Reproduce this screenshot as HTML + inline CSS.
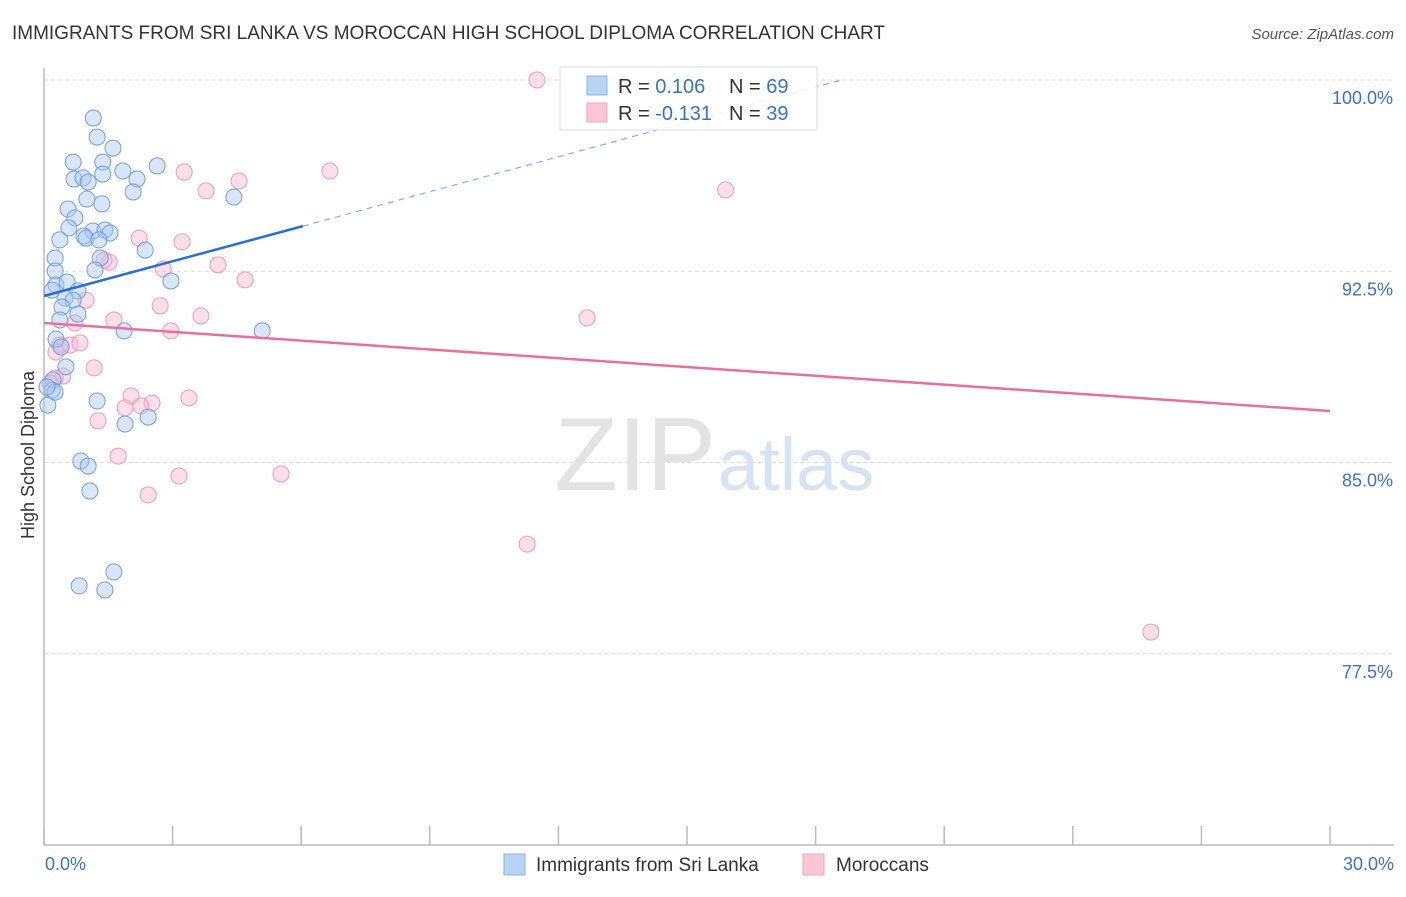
<!DOCTYPE html>
<html><head><meta charset="utf-8"><style>
body{margin:0;background:#fff;font-family:"Liberation Sans",sans-serif}
svg text{font-family:"Liberation Sans",sans-serif}
</style></head><body>
<svg width="1406" height="892" viewBox="0 0 1406 892">
<text x="12" y="39" font-size="19" fill="#333" textLength="873" lengthAdjust="spacingAndGlyphs">IMMIGRANTS FROM SRI LANKA VS MOROCCAN HIGH SCHOOL DIPLOMA CORRELATION CHART</text>
<text x="1394" y="39" font-size="15" fill="#555" font-style="italic" text-anchor="end">Source: ZipAtlas.com</text>
<g id="grid"></g>
<g id="axes"></g>
<text x="716" y="490" font-size="104" fill="#e3e3e3" text-anchor="end" font-family="Liberation Serif">ZIP</text>
<text x="718" y="490" font-size="74" fill="#d5e3f5">atlas</text>
<g id="pts"></g>
<g id="trends"></g>
<g>
<rect x="560" y="67" width="257" height="63" fill="#fff" fill-opacity="0.85" stroke="#ddd"/>
<rect x="587" y="76" width="20" height="19" fill="#b8d3f5" stroke="#8ab4ea"/>
<rect x="587" y="103" width="20" height="19" fill="#fcc6d6" stroke="#f4a6be"/>
<text x="618" y="93" font-size="20" fill="#333">R = <tspan fill="#3472d4">0.106</tspan><tspan x="729">N = </tspan><tspan fill="#3472d4">69</tspan></text>
<text x="618" y="120" font-size="20" fill="#333">R = <tspan fill="#3472d4">-0.131</tspan><tspan x="729">N = </tspan><tspan fill="#3472d4">39</tspan></text>
</g>
<text x="34" y="455" font-size="18" fill="#333" transform="rotate(-90 34 455)" text-anchor="middle">High School Diploma</text>
<g>
<rect x="504" y="854" width="21" height="21" fill="#b8d3f5" stroke="#8ab4ea"/>
<text x="536" y="871" font-size="19" fill="#333">Immigrants from Sri Lanka</text>
<rect x="803" y="854" width="21" height="21" fill="#fcc6d6" stroke="#f4a6be"/>
<text x="836" y="871" font-size="19" fill="#333">Moroccans</text>
</g>
</svg>
<script>
const yTicks=[100,92.5,85,77.5];
const yTickLabels=["100.0%","92.5%","85.0%","77.5%"];
const xTickVals=[0,3,6,9,12,15,18,21,24,27,30];
const xLabels=["0.0%","30.0%"];
const blueX=[1.15,1.24,1.61,0.68,1.37,2.64,1.84,0.7,0.91,1.03,1.37,2.17,2.08,4.43,1.0,1.35,0.56,0.72,0.58,1.14,1.42,1.54,0.93,0.98,0.37,1.28,2.36,0.26,1.31,1.19,0.26,2.96,0.28,0.54,0.19,0.79,0.49,0.68,0.42,0.79,0.37,1.87,5.09,0.28,0.4,0.51,0.21,0.19,0.09,1.24,1.89,2.43,0.86,1.03,1.07,1.63,0.82,1.42,0.26,0.07];
const blueY=[98.51,97.76,97.33,96.78,96.78,96.63,96.43,96.12,96.16,96.0,96.31,96.12,95.61,95.41,95.33,95.14,94.94,94.59,94.2,94.08,94.12,94.0,93.88,93.8,93.73,93.73,93.33,93.02,93.02,92.55,92.51,92.12,91.96,92.08,91.76,91.73,91.45,91.37,91.1,90.82,90.59,90.16,90.16,89.84,89.53,88.75,88.24,87.84,87.25,87.41,86.51,86.78,85.06,84.86,83.88,80.71,80.16,80.0,87.76,87.96];
const pinkX=[11.5,6.67,3.27,4.55,3.78,15.9,2.22,3.22,1.52,1.4,2.78,4.06,4.69,0.98,2.71,3.66,1.63,0.72,2.96,12.67,0.37,0.61,0.84,0.28,1.17,0.44,0.26,0.14,2.03,3.38,1.89,2.52,2.26,1.26,1.73,3.15,5.53,2.43,11.27,25.82];
const pinkY=[100,96.43,96.39,96.04,95.65,95.69,93.8,93.65,92.86,92.94,92.59,92.75,92.16,91.37,91.14,90.75,90.59,90.47,90.16,90.67,89.61,89.61,89.69,89.33,88.71,88.39,88.31,88.12,87.61,87.53,87.14,87.33,87.22,86.63,85.25,84.47,84.55,83.73,81.8,78.35];
const blueTrend=[[0,91.53],[6.04,94.27]];
const blueDash=[[6.04,94.27],[18.6,100]];
const pinkTrend=[[0,90.47],[30,87.02]];
const NS="http://www.w3.org/2000/svg";
const sx=v=>44+v*(1286/30), sy=v=>80+(100-v)*25.5;
function mk(t,a,p){const e=document.createElementNS(NS,t);for(const k in a)e.setAttribute(k,a[k]);p.appendChild(e);return e;}
const grid=document.getElementById('grid'),axes=document.getElementById('axes');
yTicks.forEach((v,i)=>{
 const l=mk('line',{x1:44,x2:1394,y1:sy(v),y2:sy(v),stroke:'#ddd','stroke-dasharray':'4,3'},grid);
 
 
 const t=mk('text',{x:1393,y:sy(v)+24,'font-size':18,fill:'#3a72d0','text-anchor':'end'},axes);
 t.textContent=yTickLabels[i];
 
 
});
mk('line',{x1:44,x2:44,y1:68,y2:845,stroke:'#bbb','stroke-width':1.5},axes);
mk('line',{x1:44,x2:1394,y1:845,y2:845,stroke:'#bbb','stroke-width':1.5},axes);
xTickVals.forEach(v=>{
 const l=mk('line',{x1:sx(v),x2:sx(v),y1:826,y2:845,stroke:'#bbb','stroke-width':1.5},axes);
 
 
});
const xl0=mk('text',{x:45,y:870,'font-size':18,fill:'#3a72d0'},axes);xl0.textContent=xLabels[0];


const xl1=mk('text',{x:1394,y:870,'font-size':18,fill:'#3a72d0','text-anchor':'end'},axes);xl1.textContent=xLabels[1];


const pts=document.getElementById('pts');
pinkX.forEach((x,i)=>{const c=mk('circle',{cx:sx(x),cy:sy(pinkY[i]),r:8,fill:'#f9b8cc','fill-opacity':0.45,stroke:'#f19ab6','stroke-width':1},pts);
 
 });
blueX.forEach((x,i)=>{const c=mk('circle',{cx:sx(x),cy:sy(blueY[i]),r:8,fill:'#a9c8f0','fill-opacity':0.45,stroke:'#6fa0e2','stroke-width':1},pts);
 
 });
const tr=document.getElementById('trends');
const b=mk('line',{x1:sx(blueTrend[0][0]),y1:sy(blueTrend[0][1]),x2:sx(blueTrend[1][0]),y2:sy(blueTrend[1][1]),stroke:'#2a6fd6','stroke-width':2.5},tr);


const bd=mk('line',{x1:sx(blueDash[0][0]),y1:sy(blueDash[0][1]),x2:sx(blueDash[1][0]),y2:sy(blueDash[1][1]),stroke:'#8ab0e6','stroke-width':1.2,'stroke-dasharray':'6,5'},tr);


const p=mk('line',{x1:sx(pinkTrend[0][0]),y1:sy(pinkTrend[0][1]),x2:sx(pinkTrend[1][0]),y2:sy(pinkTrend[1][1]),stroke:'#e8709a','stroke-width':2.5},tr);


</script>
</body></html>
